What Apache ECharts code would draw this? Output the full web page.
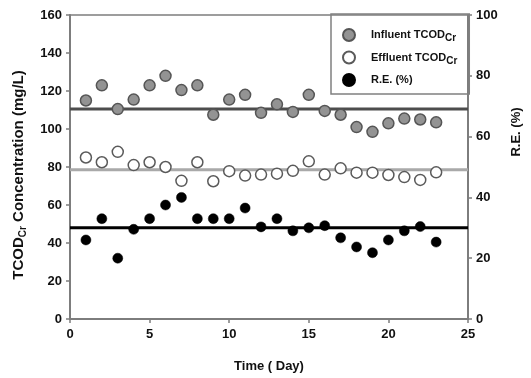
<!DOCTYPE html>
<html>
<head>
<meta charset="utf-8">
<script src="https://cdn.jsdelivr.net/npm/echarts@6/dist/echarts.min.js"></script>
<style>
html,body{margin:0;padding:0;background:#fff;}
#chart{width:531px;height:378px;}
</style>
</head>
<body>
<div id="chart"></div>
<script>
// ---- data ----
var days = [1,2,3,4,5,6,7,8,9,10,11,12,13,14,15,16,17,18,19,20,21,22,23];
var influent = [115,123,110.5,115.5,123,128,120.5,123,107.5,115.5,118,108.5,113,109,118,109.5,107.5,101,98.5,103,105.5,105,103.5];
var effluent = [85,82.5,88,81,82.5,80,72.7,82.5,72.5,77.8,75.5,76,76.5,78,83,76,79.3,77,77,75.8,74.7,73.2,77.2];
var removal = [26,33,20,29.5,33,37.5,40,33,33,33,36.5,30.3,33,29,30,30.7,26.7,23.7,21.8,26,29,30.4,25.3];
var influentMean = 110.5;
var effluentMean = 78.5;
var removalMean = 30;
var xTicks = {min:0, max:25, interval:5};
var leftTicks = {min:0, max:160, interval:20};
var rightTicks = {min:0, max:100, interval:20};
var seriesNames = ['Influent TCOD', 'Effluent TCOD', 'R.E. (%)'];

var FONT = "'Liberation Sans', Arial, sans-serif";
var axisColor = '#7d7d7d';

function pairs(xs, ys){ return xs.map(function(x,i){ return [x, ys[i]]; }); }

var chart = echarts.init(document.getElementById('chart'), null, {renderer:'canvas'});

var axisLabelStyle = {color:'#111', fontFamily:FONT, fontWeight:'bold', fontSize:13};

var option = {
  backgroundColor:'#fff',
  animation:false,
  grid:{left:70, right:61, top:15, bottom:55},
  legend:{
    orient:'vertical',
    left:331, top:14,
    padding:[14, 12, 7, 11],
    itemGap:7,
    itemWidth:12, itemHeight:12,
    borderColor:'#808080', borderWidth:1.5,
    data:seriesNames.map(function(n){ return {name:n, icon:'circle'}; }),
    formatter:function(n){
      if (n === seriesNames[2]) return '{n|' + n + '}';
      return '{n|' + n + '}{s|Cr}';
    },
    textStyle:{
      fontFamily:FONT, fontWeight:'bold', fontSize:11, color:'#111',
      padding:[0,0,0,11],
      rich:{
        n:{fontFamily:FONT, fontWeight:'bold', fontSize:11, color:'#111', lineHeight:14},
        s:{fontFamily:FONT, fontWeight:'bold', fontSize:10, color:'#111', padding:[7,0,0,0]}
      }
    }
  },
  xAxis:[{
    type:'value', min:xTicks.min, max:xTicks.max, interval:xTicks.interval,
    name:'Time ( Day)', nameLocation:'middle', nameGap:41,
    nameTextStyle:{color:'#111', fontFamily:FONT, fontWeight:'bold', fontSize:13},
    axisLine:{show:true, onZero:false, lineStyle:{color:axisColor, width:2}},
    axisTick:{show:true, length:4, lineStyle:{color:axisColor, width:1.5}},
    axisLabel:Object.assign({margin:9}, axisLabelStyle),
    splitLine:{show:false}
  },{
    type:'value', position:'top', min:xTicks.min, max:xTicks.max,
    axisLine:{show:true, onZero:false, lineStyle:{color:axisColor, width:1.5}},
    axisTick:{show:false}, axisLabel:{show:false}, splitLine:{show:false}
  }],
  yAxis:[{
    type:'value', position:'left', min:leftTicks.min, max:leftTicks.max, interval:leftTicks.interval,
    name:'{a|TCOD}{s|Cr}{a| Concentration (mg/L)}',
    nameLocation:'middle', nameRotate:90, nameGap:42,
    nameTextStyle:{
      padding:[0,16,0,0],
      rich:{
        a:{color:'#111', fontFamily:FONT, fontWeight:'bold', fontSize:15, lineHeight:17},
        s:{color:'#111', fontFamily:FONT, fontWeight:'bold', fontSize:10, padding:[8,0,0,0]}
      }
    },
    axisLine:{show:true, onZero:false, lineStyle:{color:axisColor, width:2}},
    axisTick:{show:true, length:4, lineStyle:{color:axisColor, width:1.5}},
    axisLabel:Object.assign({margin:8}, axisLabelStyle),
    splitLine:{show:false}
  },{
    type:'value', position:'right', min:rightTicks.min, max:rightTicks.max, interval:rightTicks.interval,
    name:'R.E. (%)', nameLocation:'middle', nameRotate:90, nameGap:42,
    nameTextStyle:{color:'#111', fontFamily:FONT, fontWeight:'bold', fontSize:13, padding:[0,0,0,70]},
    axisLine:{show:true, onZero:false, lineStyle:{color:axisColor, width:2}},
    axisTick:{show:true, length:4, lineStyle:{color:axisColor, width:1.5}},
    axisLabel:Object.assign({margin:8}, axisLabelStyle),
    splitLine:{show:false}
  }],
  series:[
    {
      name:'influentMeanLine', type:'line', yAxisIndex:0, z:1, silent:true, symbol:'none',
      data:[[xTicks.min, influentMean],[xTicks.max, influentMean]],
      lineStyle:{color:'#4d4d4d', width:3}
    },
    {
      name:'effluentMeanLine', type:'line', yAxisIndex:0, z:1, silent:true, symbol:'none',
      data:[[xTicks.min, effluentMean],[xTicks.max, effluentMean]],
      lineStyle:{color:'#a9a9a9', width:3}
    },
    {
      name:'removalMeanLine', type:'line', yAxisIndex:1, z:1, silent:true, symbol:'none',
      data:[[xTicks.min, removalMean],[xTicks.max, removalMean]],
      lineStyle:{color:'#000', width:3}
    },
    {
      name:seriesNames[0], type:'scatter', yAxisIndex:0, z:3,
      symbol:'circle', symbolSize:11,
      itemStyle:{color:'#939393', borderColor:'#555', borderWidth:1.5, opacity:1},
      data:pairs(days, influent)
    },
    {
      name:seriesNames[1], type:'scatter', yAxisIndex:0, z:3,
      symbol:'circle', symbolSize:11,
      itemStyle:{color:'#fff', borderColor:'#5a5a5a', borderWidth:1.5, opacity:1},
      data:pairs(days, effluent)
    },
    {
      name:seriesNames[2], type:'scatter', yAxisIndex:1, z:3,
      symbol:'circle', symbolSize:10,
      itemStyle:{color:'#000', borderColor:'#000', borderWidth:0.5, opacity:1},
      data:pairs(days, removal)
    }
  ]
};
chart.setOption(option);
</script>
</body>
</html>
